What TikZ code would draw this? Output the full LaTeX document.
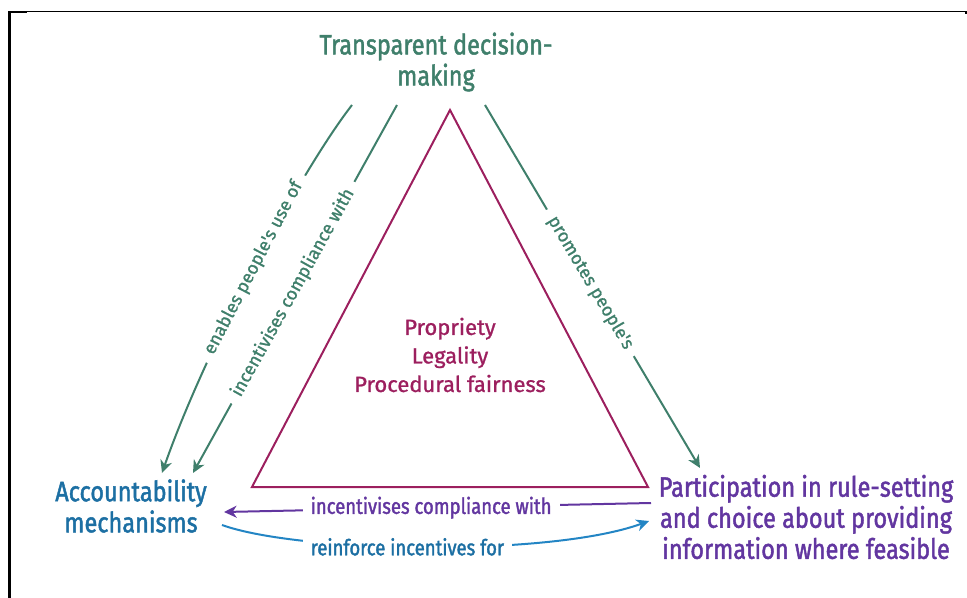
\documentclass[tikz,border=0pt]{standalone}
\usepackage{fontspec}
\setmainfont{Fira Sans}
\newfontfamily\handfont{Fira Sans}[FakeStretch=0.84, FakeBold=1.6]
\newfontfamily\roundfont{Fira Sans}[FakeBold=1.0]
\usetikzlibrary{arrows.meta}

\definecolor{tealgreen}{HTML}{3F7F6B}
\definecolor{crimson}{HTML}{9C1F5E}
\definecolor{accblue}{HTML}{1C6FA3}
\definecolor{arrowblue}{HTML}{2385C4}
\definecolor{partpurple}{HTML}{6236A0}

\tikzset{
  heading/.style={font=\handfont\fontsize{21}{23.3}\selectfont, align=center, inner sep=0pt},
  principle/.style={font=\roundfont\fontsize{16.5}{21.4}\selectfont, align=center, text=crimson, inner sep=0pt},
  slantlabel/.style={font=\roundfont\fontsize{13.5}{16}\selectfont, text=tealgreen, fill=white, inner xsep=7pt, inner ysep=1pt, sloped},
  flatlabel/.style={font=\handfont\fontsize{16.5}{18}\selectfont, fill=white, inner xsep=6pt, inner ysep=1pt},
  tip/.style={-{Stealth[length=9.5pt,width=9pt,inset=3pt]}},
  link/.style={line width=1.5pt, tip},
}

\begin{document}
\begin{tikzpicture}[x=0.75pt, y=-0.75pt]
  \useasboundingbox (0,0) rectangle (967,598);

  % outer frame (left and top rules only)
  \draw[line width=1.9pt] (9.5,598) -- (9.5,11.2);
  \draw[line width=1.1pt] (9,11.5) -- (966,11.5) -- (966,14);
  \draw[line width=1.9pt] (9,11.8) -- (27,11.8);

  % central triangle with its principles
  \coordinate (apex) at (450,110);
  \coordinate (baseL) at (252,487);
  \coordinate (baseR) at (648,487);
  \draw[crimson, line width=1.5pt, line join=miter] (apex) -- (baseR) -- (baseL) -- cycle;
  \node[principle] (principles) at (450,355) {Propriety\\Legality\\Procedural fairness};

  % the three corner concepts
  \node[heading, text=tealgreen] (transp) at (436,62) {Transparent decision-\\making};
  \node[heading, text=accblue] (account) at (131,506) {Accountability\\mechanisms};
  \node[heading, text=partpurple] (partic) at (806,517) {Participation in rule-setting\\and choice about providing\\information where feasible};

  % arrow end points
  \coordinate (tA) at (352,105);
  \coordinate (tB) at (397,105);
  \coordinate (tC) at (485,105);
  \coordinate (aA) at (162,473);
  \coordinate (aB) at (193,473);
  \coordinate (pC) at (700,468);
  \coordinate (pD) at (651,503);
  \coordinate (aD) at (224,512);
  \coordinate (aE) at (222,525);
  \coordinate (pE) at (649,521);

  % transparency links
  \draw[link, tealgreen] (tA) .. controls (300,172) and (205,350) .. (aA)
    node[slantlabel, pos=0.5] (lblA) {enables people's use of};
  \draw[link, tealgreen] (tB) -- (aB)
    node[slantlabel, pos=0.51] (lblB) {incentivises compliance with};
  \draw[link, tealgreen] (tC) -- (pC)
    node[slantlabel, pos=0.49] (lblC) {promotes people's};

  % links between participation and accountability
  \draw[link, partpurple] (pD) -- (aD)
    node[flatlabel, text=partpurple, pos=0.515] (lblD) {incentivises compliance with};
  \draw[link, arrowblue] (aE) .. controls (300,553) and (550,557) .. (pE)
    node[flatlabel, text=accblue, pos=0.46] (lblE) {reinforce incentives for};
\end{tikzpicture}
\end{document}
